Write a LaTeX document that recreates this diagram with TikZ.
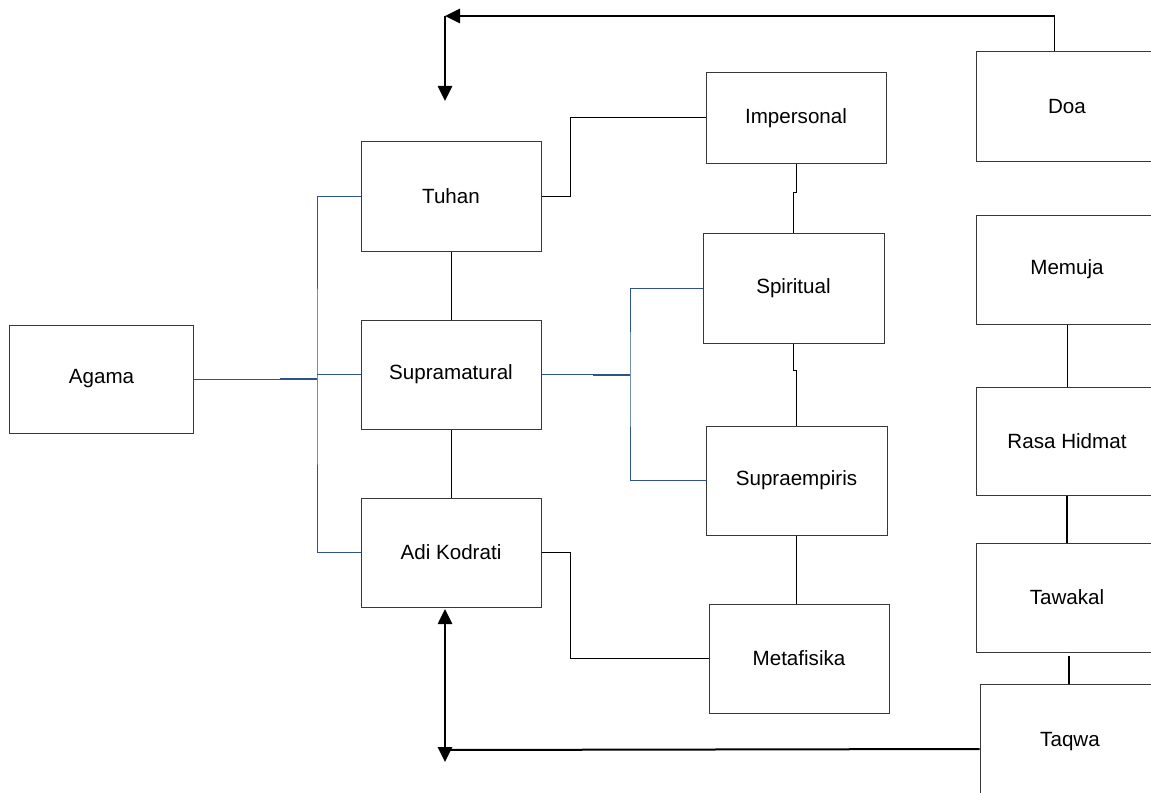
\documentclass[tikz,border=0pt]{standalone}
\usepackage{fontspec}
\setmainfont{Liberation Sans}
\usetikzlibrary{arrows.meta,calc}
\definecolor{linkblue}{RGB}{47,82,143}
\begin{document}
\begin{tikzpicture}[x=1bp,y=-1bp,
  box/.style={draw=black!78,line width=1bp,minimum width=180bp,minimum height=109bp,
    inner sep=0pt,font=\fontsize{20.6bp}{24bp}\selectfont},
  link/.style={line width=1bp,black},
  bluelink/.style={line width=1bp,linkblue},
  bold/.style={line width=2.6bp,black},
  tip/.style={-{Triangle[length=15bp,width=14bp]}},
  bothtips/.style={{Triangle[length=15bp,width=14bp]}-{Triangle[length=15bp,width=14bp]}}]
\useasboundingbox (0,0) rectangle (1151,793);
\fill[white] (0,0) rectangle (1151,793);
\clip (0,0) rectangle (1151,793);

% left column
\node[box,minimum width=183bp,minimum height=108bp] (agama) at (101.5,379) {Agama};
\node[box] (tuhan) at (451,196.5) {Tuhan};
\node[box] (supra) at (451,374.5) {Supramatural};
\node[box] (adi) at (451,552.5) {Adi Kodrati};

% middle column
\node[box,minimum height=90bp] (impersonal) at (796,118) {Impersonal};
\node[box,minimum width=181bp,minimum height=110bp] (spiritual) at (793.5,288) {Spiritual};
\node[box,minimum width=181bp] (supraemp) at (796.5,480.5) {Supraempiris};
\node[box] (metafisika) at (799,658.5) {Metafisika};

% right column (boxes run past the right edge)
\node[box,minimum width=182bp] (doa) at (1067,106.5) {Doa};
\node[box,minimum width=182bp] (memuja) at (1067,269.5) {Memuja};
\node[box,minimum width=182bp,minimum height=108bp] (rasa) at (1067,441) {Rasa Hidmat};
\node[box,minimum width=182bp] (tawakal) at (1067,597.5) {Tawakal};
\node[box,minimum width=180bp,minimum height=116bp] (taqwa) at (1070,742) {Taqwa};

% Agama branches to the three names
\coordinate (hubA) at (317,379);
\draw[bluelink] (agama.east) -- (hubA);
\draw[linkblue,line width=2bp] (280,379) -- (hubA);
\draw[bluelink] (tuhan.west) -| (hubA) |- (adi.west);
\draw[bluelink] (hubA |- supra.west) -- (supra.west);

% Supramatural branches
\coordinate (hubB) at (630,374.5);
\draw[bluelink] (supra.east) -- (hubB);
\draw[linkblue,line width=2bp] (593,374.5) -- (hubB);
\draw[bluelink] (spiritual.west) -| (hubB) |- (supraemp.west);

% elbow links
\draw[link] (tuhan.east) -- ++(29,0) |- ($(impersonal.west)+(0,-1)$);
\draw[link] (adi.east) -- ++(29,0) |- (metafisika.west);

% vertical links
\draw[link] (tuhan.south) -- (supra.north);
\draw[link] (supra.south) -- (adi.north);
\draw[link] (impersonal.south) -- ++(0,29) -| (spiritual.north);
\draw[link] (spiritual.south) -- ++(0,27) -| (supraemp.north);
\draw[link] (supraemp.south) -- (supraemp.south |- metafisika.north);
\draw[link] (memuja.south) -- (rasa.north);
\draw[link,line width=2bp] (rasa.south) -- (tawakal.north);
\draw[link,line width=2bp] ($(tawakal.south)+(2,3)$) -- ($(tawakal.south |- taqwa.north)+(2,0)$);

% top return arrow from Doa
\coordinate (doatop) at ($(doa.north west)+(79,0)$);
\coordinate (corner) at (445,16);
\coordinate (downend) at (445,101);
\draw[link,line width=1.8bp] (doatop) |- (515,16);
\draw[bold,tip] (520,16) -- (corner);
\draw[bold,tip] (corner) -- (downend);

% bottom return arrow from Taqwa
\coordinate (upend) at (445,609);
\coordinate (lowend) at (445,762);
\draw[bold,bothtips] (upend) -- (lowend);
\draw[link,line width=2bp] (445,750) -- ($(taqwa.west)+(0,7)$);
\end{tikzpicture}
\end{document}
